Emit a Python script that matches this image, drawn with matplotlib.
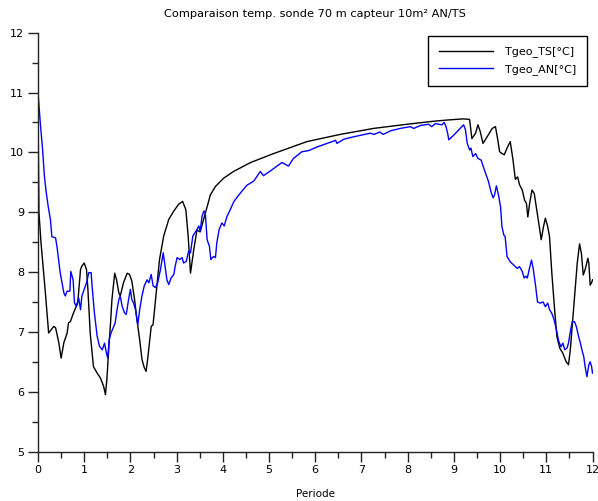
import matplotlib
matplotlib.use("Agg")
import matplotlib.pyplot as plt
from matplotlib.ticker import MultipleLocator

# ---- data ----
ts_x = [0.0, 0.02, 0.065, 0.16, 0.23, 0.34, 0.38, 0.45, 0.50, 0.56, 0.63, 0.66, 0.70, 0.77, 0.86,
        0.92, 0.95, 1.0, 1.05, 1.08, 1.13, 1.20, 1.28, 1.35, 1.42, 1.46, 1.49, 1.53, 1.57, 1.60,
        1.66, 1.70, 1.75, 1.78, 1.85, 1.93, 1.98, 2.03, 2.09, 2.14, 2.20, 2.25, 2.30, 2.34, 2.38,
        2.42, 2.45, 2.49, 2.53, 2.58, 2.63, 2.72, 2.83, 2.94, 3.04, 3.13, 3.20, 3.25, 3.30, 3.37,
        3.44, 3.51, 3.58, 3.66, 3.73, 3.84, 4.02, 4.23, 4.38, 4.60, 5.10, 5.82, 6.54, 7.26, 7.99,
        8.56, 8.85, 9.21, 9.34, 9.39, 9.47, 9.52, 9.57, 9.63, 9.72, 9.83, 9.90, 9.95, 9.99, 10.04,
        10.09, 10.15, 10.22, 10.28, 10.33, 10.38, 10.42, 10.48, 10.53, 10.57, 10.60, 10.64, 10.69,
        10.74, 10.80, 10.86, 10.89, 10.94, 10.98, 11.03, 11.07, 11.12, 11.18, 11.23, 11.29, 11.36,
        11.43, 11.48, 11.52, 11.56, 11.61, 11.67, 11.72, 11.76, 11.80, 11.84, 11.90, 11.92, 11.95,
        11.99, 12.0]
ts_y = [10.75, 9.0, 8.49, 7.65, 6.98, 7.09, 7.07, 6.82, 6.56, 6.82, 6.98, 7.15, 7.17, 7.32, 7.48,
        8.04, 8.10, 8.15, 8.04, 7.71, 6.98, 6.42, 6.31, 6.23, 6.09, 5.95, 6.20, 6.70, 7.15, 7.54,
        7.98, 7.87, 7.65, 7.60, 7.82, 7.98, 7.96, 7.85, 7.54, 7.21, 6.87, 6.54, 6.40, 6.34, 6.59,
        6.87, 7.09, 7.12, 7.43, 7.82, 8.21, 8.60, 8.88, 9.02, 9.13, 9.18, 9.04, 8.60, 7.98, 8.37,
        8.70, 8.67, 8.87, 9.09, 9.29, 9.43, 9.57, 9.68, 9.74, 9.83, 9.98, 10.18, 10.30, 10.40, 10.47,
        10.52, 10.54, 10.56, 10.55, 10.23, 10.32, 10.46, 10.35, 10.15, 10.26, 10.40, 10.43, 10.21,
        10.01, 9.98, 9.96, 10.07, 10.18, 9.87, 9.55, 9.59, 9.46, 9.37, 9.20, 9.15, 8.92, 9.15, 9.37,
        9.31, 9.01, 8.70, 8.54, 8.76, 8.90, 8.76, 8.59, 7.98, 7.37, 6.92, 6.73, 6.64, 6.50, 6.45,
        6.70, 7.09, 7.59, 8.15, 8.47, 8.31, 7.95, 8.04, 8.23, 8.15, 7.78, 7.84, 7.87]

an_x = [0.0, 0.05, 0.10, 0.14, 0.18, 0.22, 0.27, 0.30, 0.38, 0.41, 0.48, 0.56, 0.59, 0.63, 0.69,
        0.71, 0.76, 0.79, 0.83, 0.88, 0.92, 0.95, 1.0, 1.05, 1.10, 1.15, 1.17, 1.22, 1.28, 1.33,
        1.39, 1.44, 1.48, 1.51, 1.54, 1.58, 1.64, 1.67, 1.71, 1.75, 1.78, 1.82, 1.87, 1.91, 1.96,
        2.0, 2.03, 2.07, 2.11, 2.16, 2.20, 2.25, 2.30, 2.36, 2.40, 2.45, 2.49, 2.54, 2.59, 2.65,
        2.71, 2.74, 2.79, 2.83, 2.88, 2.94, 2.97, 3.01, 3.07, 3.12, 3.15, 3.21, 3.26, 3.30, 3.35,
        3.39, 3.44, 3.48, 3.51, 3.55, 3.59, 3.62, 3.66, 3.71, 3.74, 3.80, 3.84, 3.87, 3.92, 3.98,
        4.03, 4.09, 4.16, 4.24, 4.38, 4.52, 4.67, 4.81, 4.88, 5.03, 5.17, 5.28, 5.42, 5.53, 5.71,
        5.86, 6.04, 6.26, 6.44, 6.47, 6.62, 6.83, 7.19, 7.27, 7.40, 7.47, 7.63, 7.84, 8.06, 8.13,
        8.28, 8.45, 8.52, 8.60, 8.74, 8.79, 8.83, 8.87, 8.89, 9.0, 9.10, 9.21, 9.25, 9.29, 9.34,
        9.37, 9.41, 9.47, 9.52, 9.59, 9.65, 9.70, 9.75, 9.81, 9.85, 9.88, 9.92, 9.97, 10.01, 10.04,
        10.08, 10.11, 10.15, 10.22, 10.29, 10.37, 10.42, 10.48, 10.52, 10.56, 10.59, 10.63, 10.68,
        10.72, 10.77, 10.81, 10.87, 10.93, 10.98, 11.03, 11.07, 11.12, 11.17, 11.22, 11.27, 11.32,
        11.36, 11.40, 11.45, 11.48, 11.52, 11.56, 11.61, 11.65, 11.71, 11.74, 11.77, 11.81, 11.84,
        11.88, 11.92, 11.95, 11.98, 12.0]
an_y = [11.0, 10.49, 10.04, 9.59, 9.32, 9.10, 8.87, 8.59, 8.57, 8.43, 7.99, 7.65, 7.60, 7.68, 7.68,
        8.01, 7.87, 7.48, 7.43, 7.57, 7.37, 7.60, 7.71, 7.82, 7.99, 7.99, 7.77, 7.32, 6.93, 6.76,
        6.70, 6.81, 6.65, 6.56, 6.87, 6.98, 7.09, 7.15, 7.37, 7.54, 7.60, 7.43, 7.32, 7.29, 7.54,
        7.71, 7.54, 7.48, 7.37, 7.12, 7.37, 7.60, 7.77, 7.87, 7.82, 7.96, 7.77, 7.74, 7.82, 8.04,
        8.32, 8.15, 7.87, 7.79, 7.90, 7.96, 8.10, 8.24, 8.21, 8.24, 8.15, 8.18, 8.35, 8.32, 8.60,
        8.65, 8.71, 8.77, 8.68, 8.93, 9.02, 8.99, 8.54, 8.43, 8.21, 8.26, 8.24, 8.49, 8.71, 8.82,
        8.77, 8.93, 9.04, 9.18, 9.32, 9.45, 9.52, 9.68, 9.61, 9.69, 9.77, 9.83, 9.77, 9.90, 10.01,
        10.03, 10.09, 10.15, 10.20, 10.15, 10.22, 10.26, 10.32, 10.30, 10.34, 10.30, 10.36, 10.40,
        10.43, 10.40, 10.45, 10.47, 10.43, 10.48, 10.46, 10.50, 10.43, 10.30, 10.21, 10.29, 10.37,
        10.46, 10.38, 10.15, 10.04, 10.07, 9.93, 9.98, 9.90, 9.87, 9.73, 9.62, 9.51, 9.32, 9.24,
        9.29, 9.44, 9.27, 9.09, 8.76, 8.62, 8.59, 8.26, 8.17, 8.12, 8.06, 8.09, 8.01, 7.90, 7.93,
        7.90, 8.04, 8.20, 8.04, 7.76, 7.50, 7.48, 7.50, 7.42, 7.48, 7.37, 7.31, 7.20, 7.03, 6.84,
        6.75, 6.81, 6.70, 6.73, 6.81, 7.00, 7.17, 7.17, 7.09, 6.89, 6.81, 6.70, 6.59, 6.42, 6.25,
        6.45, 6.50, 6.42, 6.31]

series_labels = ["Tgeo_TS[°C]", "Tgeo_AN[°C]"]
title_text = "Comparaison temp. sonde 70 m capteur 10m² AN/TS"
xlabel_text = "Periode"

# ---- figure ----
plt.rcParams['font.family'] = ['DejaVu Sans']
fig = plt.figure(figsize=(5.98, 5.01), dpi=100)
ax = fig.add_axes([38 / 598, 1 - 451.5 / 501, (592.5 - 38) / 598, (451.5 - 32.7) / 501])

ax.plot(ts_x, ts_y, color="black", lw=1.0, label=series_labels[0])
ax.plot(an_x, an_y, color="#0000ff", lw=1.0, label=series_labels[1])

ax.set_xlim(0, 12)
ax.set_ylim(5, 12)
ax.xaxis.set_major_locator(MultipleLocator(1))
ax.xaxis.set_minor_locator(MultipleLocator(0.5))
ax.yaxis.set_major_locator(MultipleLocator(1))
ax.yaxis.set_minor_locator(MultipleLocator(0.5))

for s in ["top", "right"]:
    ax.spines[s].set_visible(False)
for s in ["left", "bottom"]:
    ax.spines[s].set_color("#222222")
    ax.spines[s].set_linewidth(1.0)

ax.tick_params(which="major", direction="out", length=7, width=1, color="#222222",
               labelsize=8, pad=3)
ax.tick_params(which="minor", direction="out", length=4, width=1, color="#222222")

ax.set_title(title_text, fontsize=8.2, pad=11)
ax.set_xlabel(xlabel_text, fontsize=7.5, labelpad=10)

leg = fig.legend(loc="upper right", bbox_to_anchor=(587 / 598, 1 - 36 / 501),
                 fontsize=8, frameon=True, fancybox=False, framealpha=1,
                 edgecolor="black", handlelength=4.9, handletextpad=1.1,
                 labelspacing=0.6, borderpad=0.95, borderaxespad=0)
leg.get_frame().set_linewidth(1.0)

fig.savefig("out.png", dpi=100)
